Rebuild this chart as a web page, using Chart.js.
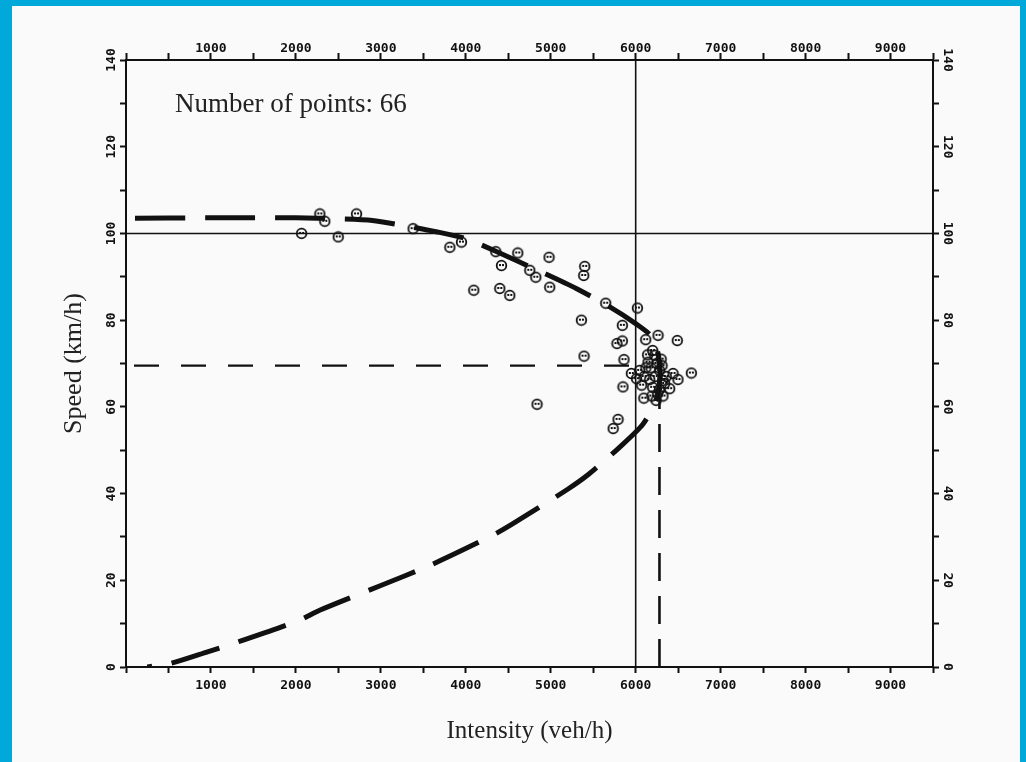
<!DOCTYPE html>
<html>
<head>
<meta charset="utf-8">
<script src="https://cdn.jsdelivr.net/npm/chart.js@4.4.1/dist/chart.umd.min.js"></script>
<style>
  body { margin: 0; background: #00a9da; width: 1026px; height: 762px; overflow: hidden; }
  #box { position: absolute; left: 12px; top: 6px; width: 1008px; height: 756px; background: #fafafa; }
</style>
</head>
<body>
<div id="box"><canvas id="myChart" width="1008" height="756"></canvas></div>
<script>
// tick labels
const intensityLabels = [1000, 2000, 3000, 4000, 5000, 6000, 7000, 8000, 9000];
const speedLabels = [0, 20, 40, 60, 80, 100, 120, 140];

// measured points (veh/h, km/h)
const pointIntensity = [2067, 2282, 2340, 2498, 2714, 3380, 3812, 3949, 4353, 4420,
  4094, 4400, 4518, 4612, 4753, 4824, 4980, 4988, 5400, 5388,
  5361, 5392, 4839, 5647, 6020, 5843, 5780, 5843, 5862, 6118,
  6263, 6490, 6655, 6498, 6440, 6400, 6321, 6096, 5792, 5735,
  5850, 6047, 6165, 6145, 6224, 6282, 6341, 5949, 6321, 6259,
  6200, 6180, 6250, 6100, 6300, 6230, 6070, 6200, 6140, 6280,
  6360, 6010, 6190, 6310, 6120, 6240];
const pointSpeed = [100, 104.5, 102.8, 99.2, 104.5, 101.1, 96.8, 98, 95.8, 92.6,
  86.9, 87.3, 85.7, 95.5, 91.5, 89.9, 94.5, 87.6, 92.4, 90.3,
  80, 71.7, 60.6, 83.9, 82.8, 78.8, 74.6, 75.2, 70.9, 75.5,
  76.5, 75.3, 67.8, 66.3, 67.7, 64.2, 62.5, 62, 57.1, 55,
  64.6, 68.4, 66.3, 70.3, 71.9, 68.4, 65.4, 67.7, 66.1, 63,
  73, 69, 70, 67, 71, 67, 65, 64.5, 72, 64,
  67, 66.5, 62.5, 69.5, 69, 61.5];

// fitted speed-flow curve (upper branch, nose, lower branch)
const curveIntensity = [0, 1000, 2000, 2500, 2900, 3300, 3650, 4000, 4340, 4900,
  5300, 5700, 6000, 6185, 6255, 6285, 6280, 6240, 6085, 5800,
  5450, 5200, 4550, 4300, 3585, 3000, 2280, 2030, 1320, 960, 520, 250];
const curveSpeed = [103.5, 103.6, 103.6, 103.4, 103, 101.7, 100.4, 98.8, 96, 91,
  87.3, 83, 79.2, 76.3, 73, 69.5, 65.5, 61.5, 56, 50.5,
  44.5, 41, 33, 30.2, 23.5, 18.8, 13.1, 10.7, 5.8, 3.5, 0.8, 0];

// reference lines
const capacityFlow = 6280;
const capacitySpeed = 69.5;
const markFlow = 6000;
const markSpeed = 100;

const pts = (xs, ys) => xs.map((x, i) => ({ x: x, y: ys[i] }));

// marker: circle with two small dots inside
const marker = document.createElement('canvas');
marker.width = 13; marker.height = 13;
const m = marker.getContext('2d');
m.strokeStyle = '#111'; m.lineWidth = 1.8;
m.beginPath(); m.arc(6.5, 6.5, 4.8, 0, Math.PI * 2); m.stroke();
m.fillStyle = '#111';
m.fillRect(4, 5, 2, 2); m.fillRect(7, 5, 2, 2);

const tickFont = { family: 'DejaVu Sans Mono', size: 13, weight: 'bold' };
const titleFont = { family: 'Liberation Serif', size: 25 };

function xAxis(pos, tl, pad, h) {
  return {
    type: 'linear', position: pos, min: 0, max: 9500,
    afterFit: s => { s.height = h; },
    border: { color: '#111', width: 2 },
    grid: { drawOnChartArea: false, tickLength: tl, tickColor: '#111', tickWidth: 2 },
    ticks: {
      stepSize: 500, autoSkip: false, maxRotation: 0, padding: pad, color: '#111', font: tickFont,
      callback: v => intensityLabels.includes(v) ? String(v) : ''
    }
  };
}
function yAxis(pos, rot, pad, w) {
  return {
    type: 'linear', position: pos, min: 0, max: 140,
    afterFit: s => { s.width = w; },
    border: { color: '#111', width: 2 },
    grid: { drawOnChartArea: false, tickLength: 6, tickColor: '#111', tickWidth: 2 },
    ticks: {
      stepSize: 10, autoSkip: false, minRotation: rot, maxRotation: rot, crossAlign: 'center',
      padding: pad, color: '#111', font: tickFont,
      callback: v => speedLabels.includes(v) ? String(v) : ''
    }
  };
}

const notePlugin = {
  id: 'note',
  afterDraw(chart) {
    const { ctx, chartArea } = chart;
    ctx.save();
    ctx.font = '27px "Liberation Serif"';
    ctx.fillStyle = '#222';
    ctx.fillText('Number of points: 66', chartArea.left + 49, chartArea.top + 52);
    ctx.restore();
  }
};

const scales = {
  x: xAxis('bottom', 6, 5, 95),
  x2: xAxis('top', 7, -3, 54),
  y: yAxis('left', 90, -3, 114),
  y2: yAxis('right', -90, -3, 87)
};
scales.x.title = { display: true, text: 'Intensity (veh/h)', color: '#222', font: titleFont, padding: { bottom: 16 } };
scales.y.title = { display: true, text: 'Speed (km/h)', color: '#222', font: { family: 'Liberation Serif', size: 26 }, padding: { top: 47 } };

const ctx = document.getElementById('myChart').getContext('2d');
new Chart(ctx, {
  type: 'scatter',
  data: {
    datasets: [
      { // vertical solid line
        data: [{ x: markFlow, y: 0 }, { x: markFlow, y: 140 }],
        showLine: true, borderColor: '#111', borderWidth: 1.6, pointRadius: 0
      },
      { // horizontal solid line
        data: [{ x: 0, y: markSpeed }, { x: 9500, y: markSpeed }],
        showLine: true, borderColor: '#111', borderWidth: 1.6, pointRadius: 0
      },
      { // capacity speed dashed
        data: [{ x: 0, y: capacitySpeed }, { x: 6150, y: capacitySpeed }],
        showLine: true, borderColor: '#111', borderWidth: 2.2, borderDash: [25, 22], borderDashOffset: -8, pointRadius: 0
      },
      { // capacity flow dashed
        data: [{ x: capacityFlow, y: 0 }, { x: capacityFlow, y: 65 }],
        showLine: true, borderColor: '#111', borderWidth: 2.6, borderDash: [28, 15], pointRadius: 0
      },
      { // fitted curve
        data: pts(curveIntensity, curveSpeed),
        showLine: true, borderColor: '#111', borderWidth: 5, borderDash: [50, 20], borderDashOffset: -9,
        tension: 0.25, pointRadius: 0
      },
      {
        data: pts(pointIntensity, pointSpeed),
        pointStyle: marker, pointRadius: 6
      }
    ]
  },
  options: {
    responsive: false,
    animation: false,
    layout: { padding: 0 },
    plugins: { legend: { display: false }, tooltip: { enabled: false } },
    scales: scales
  },
  plugins: [notePlugin]
});
</script>
</body>
</html>
